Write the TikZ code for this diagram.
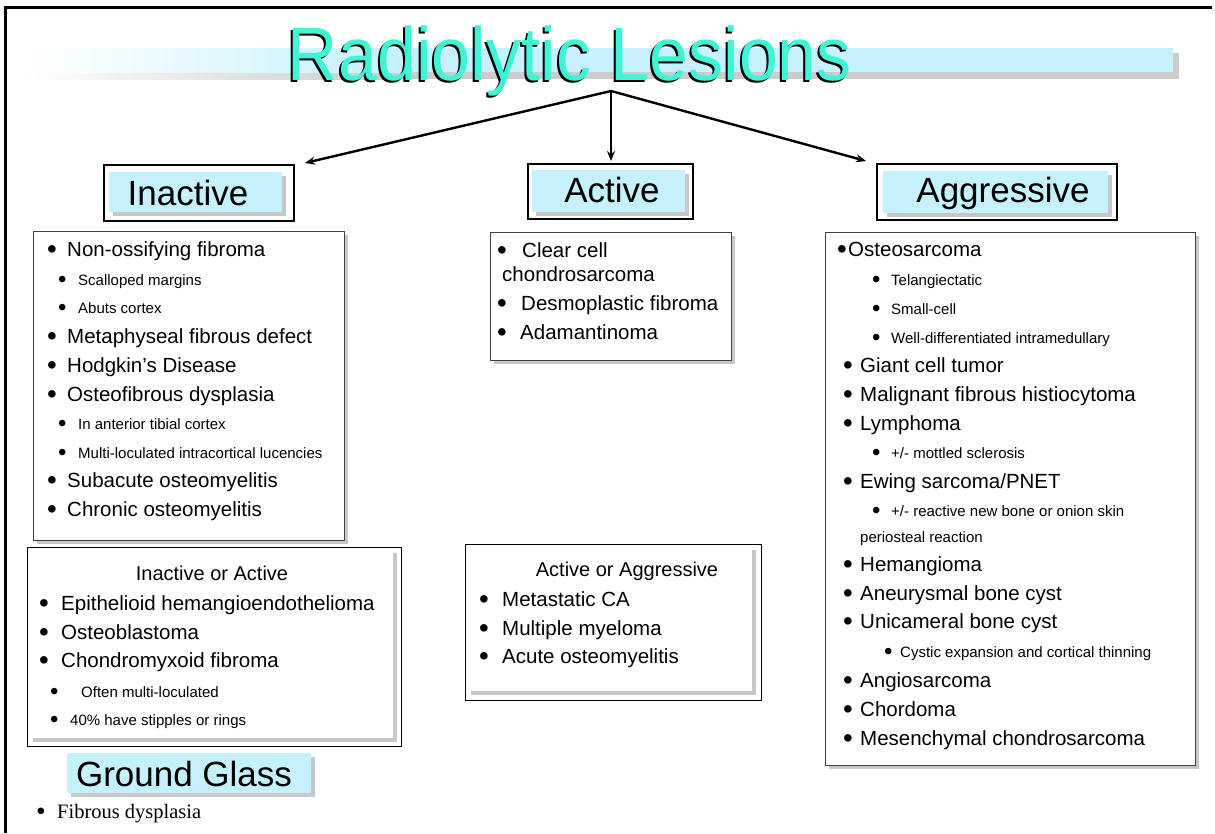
\documentclass[tikz,border=0pt]{standalone}
\usepackage{fontspec}
\setmainfont{Liberation Sans}
\newfontfamily\serifx{Liberation Serif}
\usetikzlibrary{arrows.meta,shadows}
\definecolor{hdrblue}{RGB}{197,241,253}
\definecolor{ttl}{RGB}{64,245,212}
\newcommand\bigbul{\raisebox{-2.4pt}{\scalebox{1.35}{•}}}
\newcommand\subbul{\raisebox{-2.4pt}{\scalebox{1.6}{•}}}
\newcommand\li[6]{\pgfmathsetmacro\bw{#4-#3+3}\node[#1] (#2) at ({#3-3},#5) {\makebox[\bw pt][l]{\bigbul}#6};}
\newcommand\ls[6]{\pgfmathsetmacro\bw{#4-#3+3}\node[#1] (#2) at ({#3-3},#5) {\makebox[\bw pt][l]{\subbul}#6};}
\begin{document}
\begin{tikzpicture}[x=1pt,y=-1pt,
  m/.style={anchor=base west,inner sep=0pt,font=\fontsize{20.5}{24}\selectfont},
  s/.style={anchor=base west,inner sep=0pt,font=\fontsize{15}{18}\selectfont},
  hdr/.style={anchor=base,inner sep=0pt,font=\fontsize{35}{40}\selectfont},
  outerbox/.style={draw=black,line width=1.2pt},
  shd/.style={drop shadow={shadow xshift=4pt,shadow yshift=-4pt,opacity=0.22,fill=black}},
  bluebox/.style={fill=hdrblue,draw=none,shd},
  listbox/.style={fill=white,draw=black!75,line width=0.8pt,shd},
  innerbox/.style={fill=white,draw=none,shd},
  arr/.style={line width=2.4pt,-{Stealth[length=10pt,width=8pt]}}
]
\useasboundingbox (0,0) rectangle (1215,833);
% frame
\draw[line width=3pt] (5,833) -- (5,7) -- (1212,7);
% title bar
\shade[left color=white,right color=black!20] (23,53) rectangle (400,79);
\fill[black!20] (400,53) rectangle (1179,79);
\shade[left color=white,right color=hdrblue] (23,48) rectangle (400,72);
\fill[hdrblue] (400,48) rectangle (1173,72);
% title
\node[anchor=base,inner sep=0pt,font=\fontsize{70}{80}\selectfont,text=black] (titleshadow) at (568,82) {\scalebox{1}[1.08]{Radiolytic Lesions}};
\node[anchor=base,inner sep=0pt,font=\fontsize{70}{80}\selectfont,text=ttl] (title) at (570,80) {\scalebox{1}[1.08]{Radiolytic Lesions}};
% header boxes
\draw[outerbox] (104,165) rectangle (294,221);
\fill[bluebox] (109,172) rectangle (282,212);
\node[hdr] (hIn) at (188,205) {Inactive};
\draw[outerbox] (528,164) rectangle (693,219);
\fill[bluebox] (532,170) rectangle (685,212);
\node[hdr] (hAc) at (612,202) {Active};
\draw[outerbox] (877,164) rectangle (1117,220);
\fill[bluebox] (883,171) rectangle (1108,213);
\node[hdr] (hAg) at (1003,202) {Aggressive};
% arrows
\coordinate (apex) at (611,91);
\coordinate (tIn) at (305,163);
\coordinate (tAc) at (611,161);
\coordinate (tAg) at (866,161);
\draw[arr] (apex) -- (tIn);
\draw[arr] (apex) -- (tAc);
\draw[arr] (apex) -- (tAg);
% inactive list
\draw[listbox] (33,231) rectangle (344,540);
\li{m}{i1}{50}{67}{256}{Non-ossifying fibroma}
\ls{s}{i2}{61}{78}{285}{Scalloped margins}
\ls{s}{i3}{61}{78}{313}{Abuts cortex}
\li{m}{i4}{50}{67}{343}{Metaphyseal fibrous defect}
\li{m}{i5}{50}{67}{372}{Hodgkin’s Disease}
\li{m}{i6}{50}{67}{401}{Osteofibrous dysplasia}
\ls{s}{i7}{61}{78}{429}{In anterior tibial cortex}
\ls{s}{i8}{61}{78}{458}{Multi-loculated intracortical lucencies}
\li{m}{i9}{50}{67}{487}{Subacute osteomyelitis}
\li{m}{i10}{50}{67}{516}{Chronic osteomyelitis}
% inactive or active
\draw[black,line width=1pt] (27,547) rectangle (401,746);
\fill[innerbox] (29,549) rectangle (393,738);
\node[anchor=base,inner sep=0pt,font=\fontsize{20}{24}\selectfont] (ioaT) at (212,580) {Inactive or Active};
\li{m}{ia1}{42}{61}{610}{Epithelioid hemangioendothelioma}
\li{m}{ia2}{42}{61}{639}{Osteoblastoma}
\li{m}{ia3}{42}{61}{667}{Chondromyxoid fibroma}
\ls{s}{ia4}{53}{81}{697}{Often multi-loculated}
\ls{s}{ia5}{53}{70}{725}{40\% have stipples or rings}
% ground glass
\fill[bluebox] (67,753) rectangle (311,793);
\node[hdr] (hGG) at (184,786) {Ground Glass};
\node[anchor=base west,inner sep=0pt,font=\serifx\fontsize{20.5}{24}\selectfont] (gg1) at (36,818) {\makebox[21pt][l]{\bigbul}Fibrous dysplasia};
% active list
\draw[listbox] (490,232) rectangle (731,360);
\li{m}{a1}{500}{522}{257}{Clear cell}
\node[m] (a1b) at (502,281) {chondrosarcoma};
\li{m}{a2}{500}{521}{310}{Desmoplastic fibroma}
\li{m}{a3}{500}{520}{339}{Adamantinoma}
% active or aggressive
\draw[black,line width=1pt] (465,544) rectangle (761,700);
\fill[innerbox] (467,546) rectangle (752,691);
\node[anchor=base,inner sep=0pt,font=\fontsize{20}{24}\selectfont] (aoaT) at (627,576) {Active or Aggressive};
\li{m}{aa1}{482}{502}{606}{Metastatic CA}
\li{m}{aa2}{482}{502}{635}{Multiple myeloma}
\li{m}{aa3}{482}{502}{663}{Acute osteomyelitis}
% aggressive list
\draw[listbox] (825,232) rectangle (1195,765);
\li{m}{g1}{840}{848}{256}{Osteosarcoma}
\ls{s}{g2}{875}{891}{285}{Telangiectatic}
\ls{s}{g3}{875}{891}{314}{Small-cell}
\ls{s}{g4}{875}{891}{343}{Well-differentiated intramedullary}
\li{m}{g5}{846}{860}{372}{Giant cell tumor}
\li{m}{g6}{846}{860}{401}{Malignant fibrous histiocytoma}
\li{m}{g7}{846}{860}{430}{Lymphoma}
\ls{s}{g8}{875}{891}{458}{+/- mottled sclerosis}
\li{m}{g9}{846}{860}{488}{Ewing sarcoma/PNET}
\ls{s}{g10}{875}{891}{516}{+/- reactive new bone or onion skin}
\node[s] (g10b) at (860,542) {periosteal reaction};
\li{m}{g11}{846}{860}{571}{Hemangioma}
\li{m}{g12}{846}{860}{600}{Aneurysmal bone cyst}
\li{m}{g13}{846}{860}{628}{Unicameral bone cyst}
\ls{s}{g14}{887}{900}{657}{Cystic expansion and cortical thinning}
\li{m}{g15}{846}{860}{687}{Angiosarcoma}
\li{m}{g16}{846}{860}{716}{Chordoma}
\li{m}{g17}{846}{860}{745}{Mesenchymal chondrosarcoma}
\end{tikzpicture}
\end{document}
